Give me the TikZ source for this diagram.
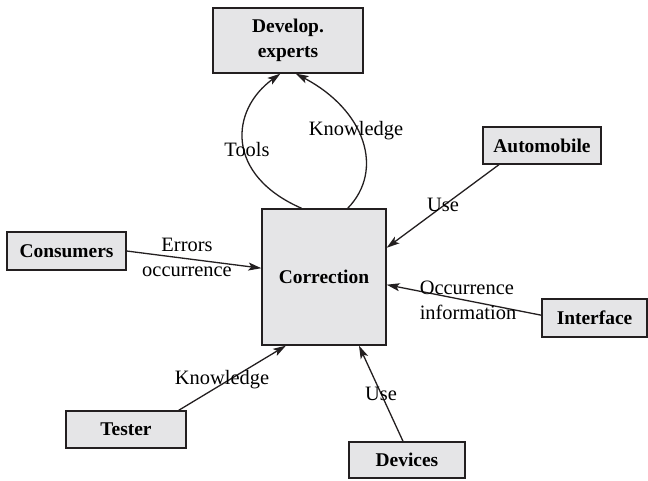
\documentclass[tikz,border=0pt]{standalone}
\usepackage{fontspec}
\setmainfont{Liberation Serif}
\usetikzlibrary{arrows.meta}
\definecolor{boxfill}{RGB}{229,229,231}
\definecolor{linecol}{RGB}{35,31,32}
\tikzset{
  box/.style={draw=linecol, line width=1.3bp, fill=boxfill, align=center, inner sep=0pt,
    font=\fontsize{19.5}{25}\selectfont\bfseries},
  lbl/.style={inner sep=0pt, font=\fontsize{20.5}{25}\selectfont},
  flow/.style={draw=linecol, line width=1.3bp, -{Stealth[length=13bp,width=8bp,inset=3bp]}}
}
\begin{document}
\begin{tikzpicture}[x=1bp, y=-1bp]
    \useasboundingbox (0, 0) rectangle (648, 481);
    \node (dev) [box, minimum width=150bp, minimum height=65bp] at (288, 40.5) {Develop.\\experts};
    \node (corr) [box, minimum width=124bp, minimum height=136bp] at (324, 277) {Correction};
    \node (cons) [box, minimum width=119bp, minimum height=38bp] at (66.5, 251) {Consumers};
    \node (auto) [box, minimum width=118bp, minimum height=37bp] at (542, 145.5) {Automobile};
    \node (intf) [box, minimum width=105bp, minimum height=38bp] at (594.5, 318) {Interface};
    \node (devs) [box, minimum width=116bp, minimum height=36bp] at (407, 460) {Devices};
    \node (test) [box, minimum width=120bp, minimum height=37bp] at (126, 429.5) {Tester};
    % connectors
    \draw[flow] (corr.108) .. controls (225, 175) and (230, 110) .. (dev.257);
    \draw[flow] (corr.71) .. controls (385, 170) and (365, 110) .. (dev.283);
    \draw[flow] (cons.east) -- (corr.172);
    \draw[flow] (auto.204) -- (corr.25);
    \draw[flow] (intf.177) -- (corr.-7);
    \draw[flow] (test.20) -- (corr.241);
    \draw[flow] (devs.102) -- (corr.297);
    % labels
    \node (ltools) [lbl] at (247, 150) {Tools};
    \node (lknow) [lbl] at (356, 131) {Knowledge};
    \node (luse) [lbl] at (443, 205) {Use};
    \node (lerr) [lbl, align=center] at (187, 257) {Errors\\occurrence};
    \node (locc) [lbl, align=left] at (468, 300) {Occurrence\\information};
    \node (lknowb) [lbl] at (222, 380) {Knowledge};
    \node (luseb) [lbl] at (381, 394) {Use};
\end{tikzpicture}
\end{document}
